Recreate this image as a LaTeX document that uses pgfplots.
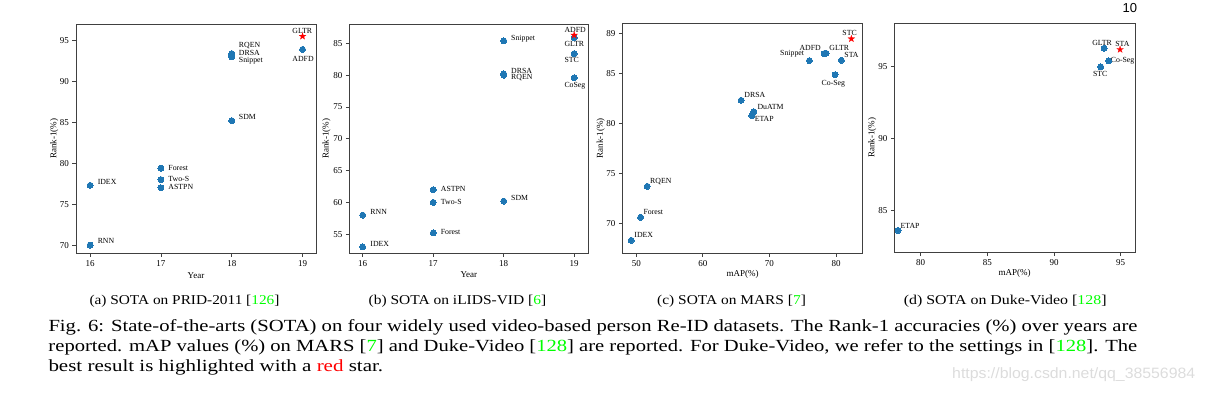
\documentclass[border=0pt]{standalone}
\usepackage{pgfplots}
\pgfplotsset{compat=1.18}
\usepackage{fontspec}
\setmainfont{Liberation Serif}
\newfontfamily\sansf{Liberation Sans}
\usepackage{graphicx}
\definecolor{mplblue}{HTML}{1F77B4}
\definecolor{cgreen}{RGB}{0,255,0}
\definecolor{cred}{RGB}{255,0,0}
\definecolor{framec}{HTML}{404040}
\definecolor{wmark}{HTML}{DCDCDC}
\pgfdeclareplotmark{fstar}{%
  \pgfpathmoveto{\pgfpointpolar{90}{\pgfplotmarksize}}%
  \pgfpathlineto{\pgfpointpolar{126}{0.382\pgfplotmarksize}}%
  \pgfpathlineto{\pgfpointpolar{162}{\pgfplotmarksize}}%
  \pgfpathlineto{\pgfpointpolar{198}{0.382\pgfplotmarksize}}%
  \pgfpathlineto{\pgfpointpolar{234}{\pgfplotmarksize}}%
  \pgfpathlineto{\pgfpointpolar{270}{0.382\pgfplotmarksize}}%
  \pgfpathlineto{\pgfpointpolar{306}{\pgfplotmarksize}}%
  \pgfpathlineto{\pgfpointpolar{342}{0.382\pgfplotmarksize}}%
  \pgfpathlineto{\pgfpointpolar{18}{\pgfplotmarksize}}%
  \pgfpathlineto{\pgfpointpolar{54}{0.382\pgfplotmarksize}}%
  \pgfpathclose
  \pgfusepathqfillstroke}
\pgfplotsset{
  panel/.style={
    scale only axis, anchor=north west, clip=false,
    axis line style={framec, line width=0.8pt},
    every tick/.style={framec, line width=0.8pt},
    tick pos=left, tick align=outside, major tick length=3.5pt,
    tick label style={font=\fontsize{9}{10}\selectfont},
    /pgf/number format/assume math mode=true,
    label style={font=\fontsize{9}{10}\selectfont},
  },
  dots/.style={only marks, mark=*, mark size=3pt, color=mplblue,
    mark options={fill=mplblue, draw=mplblue, line width=0pt}},
  best/.style={only marks, mark=fstar, mark size=3.6pt, color=cred,
    mark options={fill=cred, draw=cred, line width=0.2pt}},
}
\tikzset{lbl/.style={font=\fontsize{7.8}{9}\selectfont, inner sep=0pt, text=black}}
\newcommand{\bw}[5]{\node[lbl, anchor=base west, xshift=#3pt, yshift=#4pt] at (axis cs:#1,#2) {#5};}
\newcommand{\be}[5]{\node[lbl, anchor=base east, xshift=#3pt, yshift=#4pt] at (axis cs:#1,#2) {#5};}
\newcommand{\bc}[5]{\node[lbl, anchor=base, xshift=#3pt, yshift=#4pt] at (axis cs:#1,#2) {#5};}
\begin{document}
\begin{tikzpicture}
\path[use as bounding box] (0,0) rectangle (1205pt,-392pt);

% (a) PRID-2011
\begin{axis}[panel, at={(76pt,-24pt)}, width=240pt, height=229.3pt,
  xmin=15.8, xmax=19.19, ymin=69.0, ymax=97.0,
  xtick={16,17,18,19}, ytick={70,75,80,85,90,95},
  xlabel={Year}, ylabel={Rank-1(\%)},
  xlabel style={at={(axis description cs:0.5,0)}, anchor=base, yshift=-24.7pt},
  ylabel style={at={(axis description cs:-0.0908,0.5)}, anchor=center}]
\addplot[dots] coordinates {(16,77.3)(16,70)(17,79.4)(17,78)(17,77)(18,85.2)(18,93.4)(18,93.2)(18,93.0)(19,93.9)};
\addplot[best] coordinates {(19,95.5)};
\bw{19}{95.5}{-10.3}{2.5}{GLTR}
\bw{19}{93.9}{-10.3}{-12.4}{ADFD}
\bw{18}{93.4}{7}{6.1}{RQEN}
\bw{18}{93.2}{7}{0}{DRSA}
\bw{18}{93.0}{7}{-6}{Snippet}
\bw{18}{85.2}{7}{1.4}{SDM}
\bw{17}{79.4}{7.3}{-2.5}{Forest}
\bw{17}{78}{7.3}{-2.3}{Two-S}
\bw{17}{77}{7.3}{-2.1}{ASTPN}
\bw{16}{77.3}{7.4}{0.4}{IDEX}
\bw{16}{70}{7.4}{1.6}{RNN}
\end{axis}

% (b) iLIDS-VID
\begin{axis}[panel, at={(349.3pt,-24.3pt)}, width=239pt, height=229pt,
  xmin=15.81, xmax=19.2, ymin=52, ymax=88,
  xtick={16,17,18,19}, ytick={55,60,65,70,75,80,85},
  xlabel={Year}, ylabel={Rank-1(\%)},
  xlabel style={at={(axis description cs:0.5,0)}, anchor=base, yshift=-24pt},
  ylabel style={at={(axis description cs:-0.096,0.5)}, anchor=center}]
\addplot[dots] coordinates {(16,58)(16,53)(17,62)(17,60)(17,55.2)(18,60.2)(18,85.4)(18,80.2)(18,80.0)(19,85.9)(19,83.4)(19,79.6)};
\addplot[best] coordinates {(19,86.3)};
\bw{18}{85.4}{7.3}{0.8}{Snippet}
\bw{18}{80.2}{7.3}{0.6}{DRSA}
\bw{18}{80.0}{7.3}{-4.8}{RQEN}
\bw{18}{60.2}{7.3}{1}{SDM}
\bw{17}{62}{7.5}{-1.9}{ASTPN}
\bw{17}{60}{7.5}{-1.8}{Two-S}
\bw{17}{55.2}{7.5}{-1.2}{Forest}
\bw{16}{58}{7.6}{0.5}{RNN}
\bw{16}{53}{7.6}{0.4}{IDEX}
\bw{19}{86.3}{-9.9}{2.7}{ADFD}
\bw{19}{85.9}{-9.9}{-9.1}{GLTR}
\bw{19}{83.4}{-9.9}{-9.2}{STC}
\bw{19}{79.6}{-9.9}{-9.6}{CoSeg}
\end{axis}

% (c) MARS
\begin{axis}[panel, at={(622.3pt,-23.3pt)}, width=240.4pt, height=230pt,
  xmin=47.9, xmax=84.0, ymin=67, ymax=90,
  xtick={50,60,70,80}, ytick={70,75,80,85,89},
  xlabel={mAP(\%)}, ylabel={Rank-1(\%)},
  xlabel style={at={(axis description cs:0.5,0)}, anchor=base, yshift=-23.4pt},
  ylabel style={at={(axis description cs:-0.0894,0.5)}, anchor=center}]
\addplot[dots] coordinates {(49.25,68.3)(50.65,70.6)(51.65,73.7)(65.75,82.3)(67.65,81.16)(67.35,80.76)(76.0,86.27)(78.2,86.97)(78.5,87.0)(80.8,86.3)(79.85,84.86)};
\addplot[best] coordinates {(82.3,88.45)};
\bw{82.3}{88.45}{-9.1}{3.1}{STC}
\be{78.2}{86.97}{-3.1}{2.9}{ADFD}
\bw{78.5}{87.0}{3.2}{2.9}{GLTR}
\be{76.0}{86.27}{-5.2}{5.3}{Snippet}
\bw{80.8}{86.3}{2.9}{2.6}{STA}
\bc{79.85}{84.86}{-1.7}{-10.3}{Co-Seg}
\bw{65.75}{82.3}{3.1}{2.6}{DRSA}
\bw{67.65}{81.16}{3.5}{2.7}{DuATM}
\bw{67.35}{80.76}{2.8}{-5.3}{ETAP}
\bw{51.65}{73.7}{2.7}{2.6}{RQEN}
\bw{50.65}{70.6}{2.7}{3}{Forest}
\bw{49.25}{68.3}{3}{2.6}{IDEX}
\end{axis}

% (d) Duke-Video
\begin{axis}[panel, at={(894.3pt,-23.3pt)}, width=240.7pt, height=229.3pt,
  xmin=78.02, xmax=96.07, ymin=82.06, ymax=98,
  xtick={80,85,90,95}, ytick={85,90,95},
  xlabel={mAP(\%)}, ylabel={Rank-1(\%)},
  xlabel style={at={(axis description cs:0.5,0)}, anchor=base, yshift=-23pt},
  ylabel style={at={(axis description cs:-0.092,0.5)}, anchor=center}]
\addplot[dots] coordinates {(78.3,83.6)(93.75,96.27)(94.1,95.39)(93.5,94.97)};
\addplot[best] coordinates {(94.95,96.18)};
\bw{78.3}{83.6}{2.4}{2.3}{ETAP}
\bw{93.75}{96.27}{-12}{3}{GLTR}
\bw{94.95}{96.18}{-5}{2.6}{STA}
\bw{94.1}{95.39}{2}{-2}{Co-Seg}
\bc{93.5}{94.97}{-0.5}{-9.6}{STC}
\end{axis}

% page number
\node[anchor=base east, inner sep=0pt, font=\sansf\fontsize{13}{14}\selectfont] at (1137.3pt,-12.7pt) {10};

% sub-captions
\node[anchor=base west, inner sep=0pt, font=\fontsize{13.5}{15}\selectfont] at (89.3pt,-304.3pt)
  {\resizebox{190pt}{\height}{(a) SOTA on PRID-2011 [\textcolor{cgreen}{126}]}};
\node[anchor=base west, inner sep=0pt, font=\fontsize{13.5}{15}\selectfont] at (368.5pt,-304.3pt)
  {\resizebox{177.5pt}{\height}{(b) SOTA on iLIDS-VID [\textcolor{cgreen}{6}]}};
\node[anchor=base west, inner sep=0pt, font=\fontsize{13.5}{15}\selectfont] at (657pt,-304.3pt)
  {\resizebox{148.7pt}{\height}{(c) SOTA on MARS [\textcolor{cgreen}{7}]}};
\node[anchor=base west, inner sep=0pt, font=\fontsize{13.5}{15}\selectfont] at (903.6pt,-304.3pt)
  {\resizebox{202.8pt}{\height}{(d) SOTA on Duke-Video [\textcolor{cgreen}{128}]}};

% figure caption
\node[anchor=base west, inner sep=0pt, font=\fontsize{17}{20}\selectfont] at (48.3pt,-331.7pt)
  {\resizebox{1089pt}{\height}{Fig. 6: State-of-the-arts (SOTA) on four widely used video-based person Re-ID datasets. The Rank-1 accuracies (\%) over years are}};
\node[anchor=base west, inner sep=0pt, font=\fontsize{17}{20}\selectfont] at (48.3pt,-351.7pt)
  {\resizebox{1088.7pt}{\height}{reported. mAP values (\%) on MARS [\textcolor{cgreen}{7}] and Duke-Video [\textcolor{cgreen}{128}] are reported. For Duke-Video, we refer to the settings in [\textcolor{cgreen}{128}]. The}};
\node[anchor=base west, inner sep=0pt, font=\fontsize{17}{20}\selectfont] at (48.3pt,-371pt)
  {\resizebox{334.7pt}{\height}{best result is highlighted with a \textcolor{cred}{red} star.}};

% watermark
\node[anchor=base west, inner sep=0pt, text=wmark, font=\sansf\fontsize{15}{16}\selectfont] at (952pt,-378.3pt)
  {\resizebox{243pt}{\height}{https://blog.csdn.net/qq\_38556984}};
\end{tikzpicture}
\end{document}
